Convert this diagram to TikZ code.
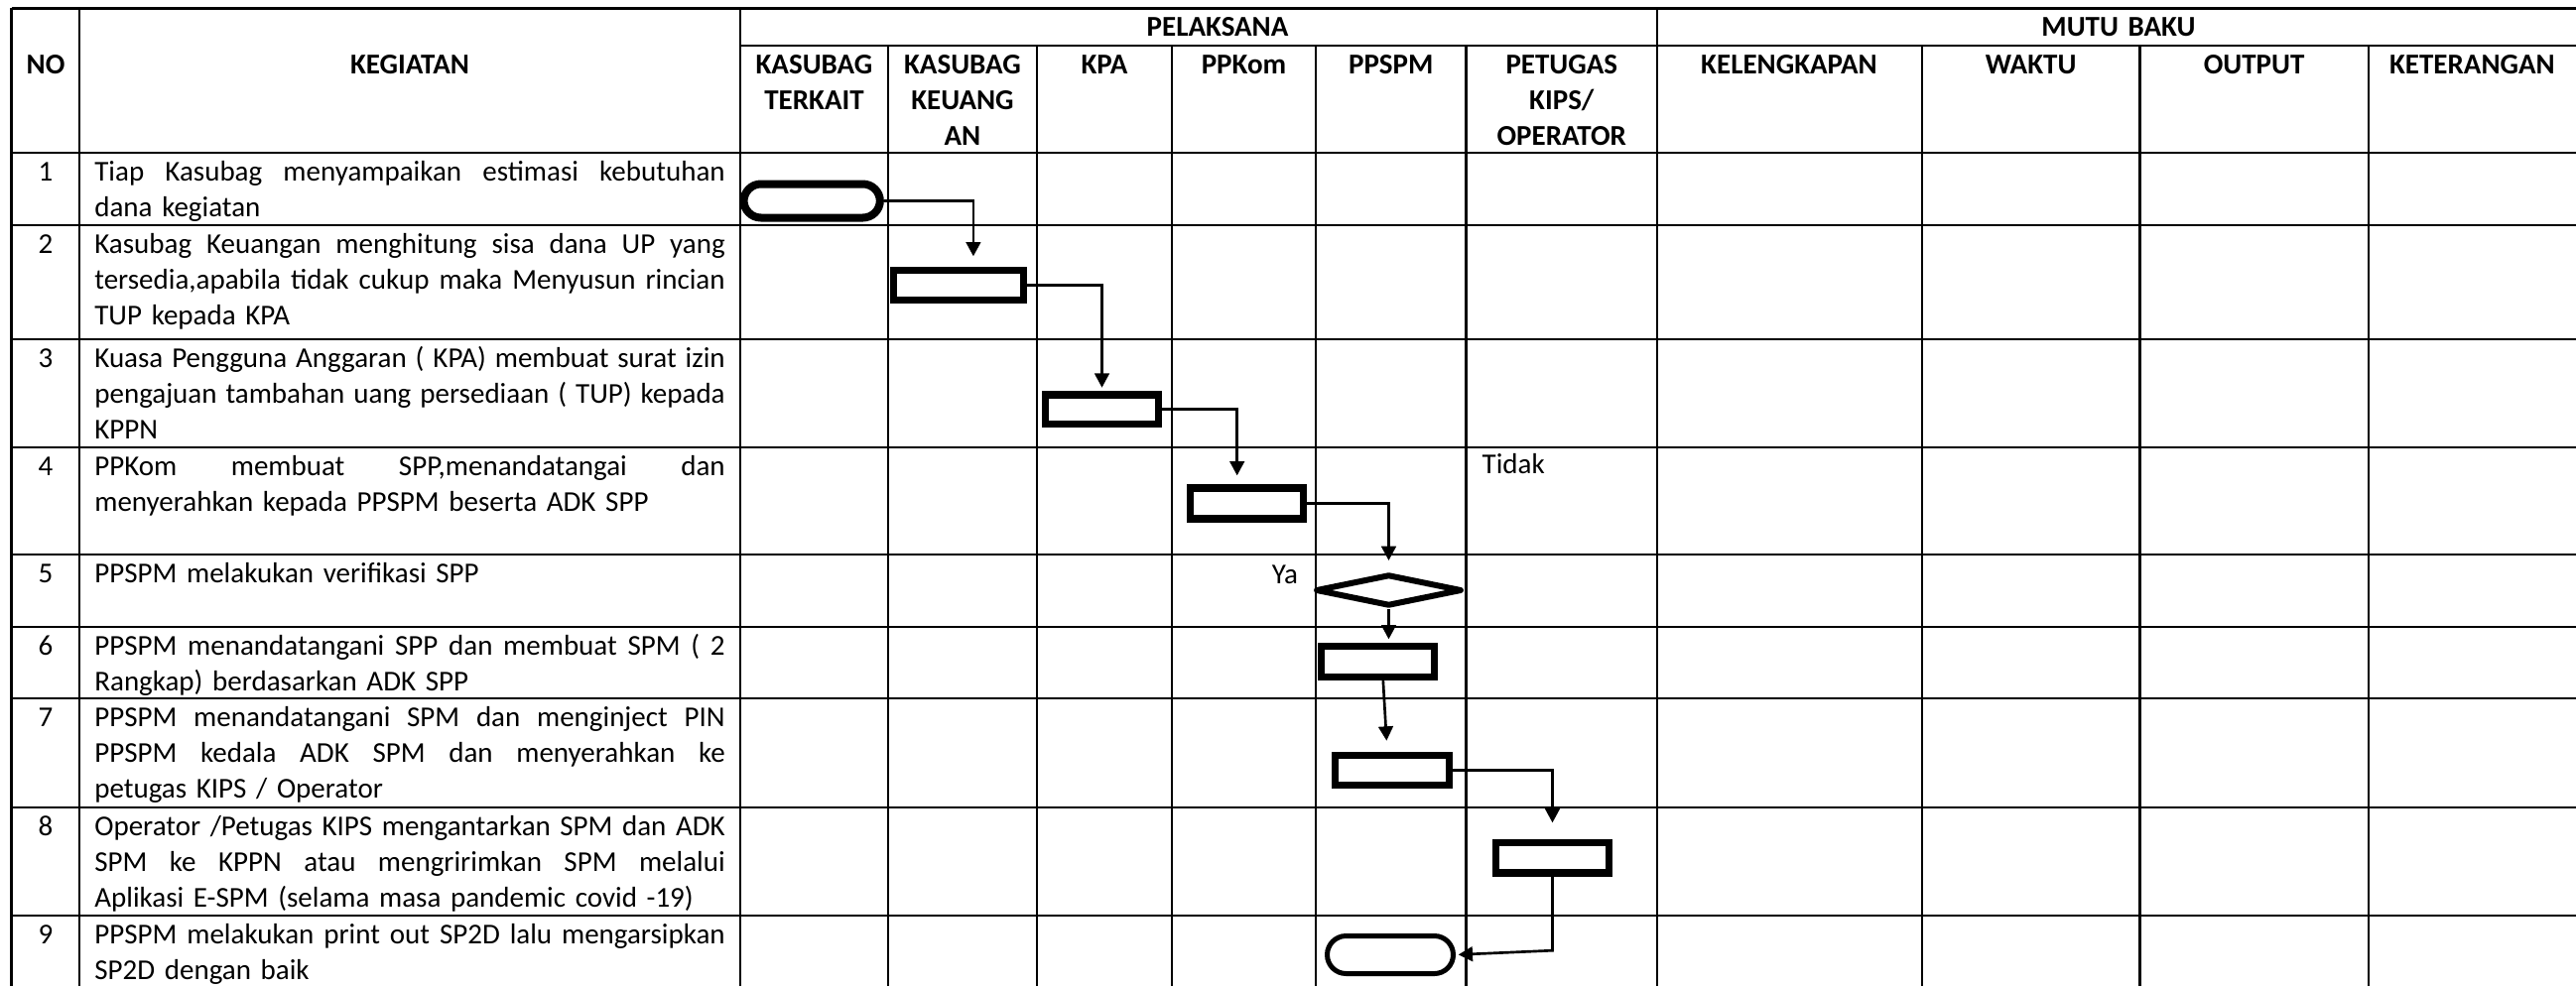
\documentclass[tikz,border=0pt]{standalone}
\usepackage{fontspec}
\setmainfont{Carlito}
\usepackage{tikz}
\usetikzlibrary{arrows.meta,shapes.geometric}
\newcommand{\jl}[1]{\makebox[190.6pt][s]{\spaceskip=0pt\xspaceskip=0pt #1}}
\tikzset{
  cell/.style={font=\fontsize{8.7}{10.8}\selectfont, inner sep=0pt},
  hd/.style={cell, font=\fontsize{8.7}{10.85}\selectfont\bfseries, align=center, anchor=base, text width=80pt},
  txt/.style={cell, align=left, anchor=base west, text width=190.6pt},
  num/.style={cell, anchor=base},
  grid/.style={line width=0.65pt},
  proc/.style={draw, line width=2.2pt, inner sep=0pt, fill=white},
  term/.style={proc, rounded corners=5.2pt},
  dec/.style={diamond, draw, line width=1.8pt, line join=round, inner sep=0pt, fill=white},
  flow/.style={line width=0.8pt, -{Triangle[length=4.3pt,width=4.4pt]}}
}

\begin{document}
\begin{tikzpicture}[x=0.3pt,y=-0.3pt]
  \useasboundingbox (0,0) rectangle (2596,994);
  \draw[grid, line width=0.8pt] (11.5,8.3) -- (2596,8.3);
  \draw[grid] (746,45.7) -- (2596,45.7);
  \foreach \y in {154.3,226.7,341.7,450.7,559,631.7,704.3,814,922.7}
    \draw[grid] (11.5,\y) -- (2596,\y);
  \foreach \x in {11.5,80.4,746,1670}
    \draw[grid] (\x,8.3) -- (\x,994);
  \foreach \x in {895,1045,1181,1326,1477.5,1936.7,2156.5,2386.7}
    \draw[grid] (\x,45.7) -- (\x,994);

  \node[hd] (no) at (46,74) {NO};
  \node[hd] (keg) at (413,74) {KEGIATAN};
  \node[hd] (pel) at (1227,36.7) {PELAKSANA};
  \node[hd] (mutu) at (2135,36.7) {MUTU BAKU};
  \node[hd] (kasubag) at (820.5,74) {KASUBAG\\TERKAIT};
  \node[hd] (keuangan) at (970,74) {KASUBAG\\KEUANG\\AN};
  \node[hd] (kpa) at (1113,74) {KPA};
  \node[hd] (ppkom) at (1253.5,74) {PPKom};
  \node[hd] (ppspm) at (1401.8,74) {PPSPM};
  \node[hd] (petugas) at (1573.8,74) {PETUGAS\\KIPS/\\OPERATOR};
  \node[hd] (lengkap) at (1803,74) {KELENGKAPAN};
  \node[hd] (waktu) at (2046.6,74) {WAKTU};
  \node[hd] (output) at (2271.6,74) {OUTPUT};
  \node[hd] (ket) at (2491.4,74) {KETERANGAN};

  \node[num] (n1) at (46,182.8) {1};
  \node[txt] (k1) at (94.7,182.8) {\jl{Tiap Kasubag menyampaikan estimasi kebutuhan}\\dana kegiatan};
  \node[num] (n2) at (46,255.2) {2};
  \node[txt] (k2) at (94.7,255.2) {\jl{Kasubag Keuangan menghitung sisa dana UP yang}\\\jl{tersedia,apabila tidak cukup maka Menyusun rincian}\\TUP kepada KPA};
  \node[num] (n3) at (46,370.2) {3};
  \node[txt] (k3) at (94.7,370.2) {\jl{Kuasa Pengguna Anggaran ( KPA) membuat surat izin}\\\jl{pengajuan tambahan uang persediaan ( TUP) kepada}\\KPPN};
  \node[num] (n4) at (46,479.2) {4};
  \node[txt] (k4) at (94.7,479.2) {\jl{PPKom membuat SPP,menandatangai dan}\\menyerahkan kepada PPSPM beserta ADK SPP};
  \node[num] (n5) at (46,587.5) {5};
  \node[txt] (k5) at (94.7,587.5) {PPSPM melakukan verifikasi SPP};
  \node[num] (n6) at (46,660.2) {6};
  \node[txt] (k6) at (94.7,660.2) {\jl{PPSPM menandatangani SPP dan membuat SPM ( 2}\\Rangkap) berdasarkan ADK SPP};
  \node[num] (n7) at (46,732.8) {7};
  \node[txt] (k7) at (94.7,732.8) {\jl{PPSPM menandatangani SPM dan menginject PIN}\\\jl{PPSPM kedala ADK SPM dan menyerahkan ke}\\petugas KIPS / Operator};
  \node[num] (n8) at (46,842.5) {8};
  \node[txt] (k8) at (94.7,842.5) {\jl{Operator /Petugas KIPS mengantarkan SPM dan ADK}\\\jl{SPM ke KPPN atau mengririmkan SPM melalui}\\Aplikasi E-SPM (selama masa pandemic covid -19)};
  \node[num] (n9) at (46,951.2) {9};
  \node[txt] (k9) at (94.7,951.2) {\jl{PPSPM melakukan print out SP2D lalu mengarsipkan}\\SP2D dengan baik};

  \node[term, line width=2.4pt, minimum width=41.2pt, minimum height=10.2pt] (t1) at (818.2,202.5) {};
  \node[proc, minimum width=39.3pt, minimum height=8.9pt] (b2) at (965.9,287.5) {};
  \node[proc, minimum width=34.1pt, minimum height=8.8pt] (b3) at (1110.5,412.7) {};
  \node[proc, minimum width=34.2pt, minimum height=9.3pt] (b4) at (1256.7,507.5) {};
  \node[dec, minimum width=44.2pt, minimum height=9.6pt] (d5) at (1399.5,595) {};
  \node[proc, minimum width=34.1pt, minimum height=9.2pt] (b6) at (1388.5,667) {};
  \node[proc, minimum width=34.4pt, minimum height=9pt] (b7) at (1403,776.3) {};
  \node[proc, minimum width=34.3pt, minimum height=9.2pt] (b8) at (1564.5,864.7) {};
  \node[term, line width=1.5pt, rounded corners=5.7pt, minimum width=38.1pt, minimum height=11.4pt] (t9) at (1401,962.5) {};
  \node[num] (ya) at (1295,588) {Ya};
  \node[cell, anchor=base west] (tidak) at (1493,477) {Tidak};

  \draw[flow, shorten >=3.2pt] (t1.east) -| ([xshift=4.5pt]b2.north);
  \draw[flow, shorten >=1.1pt] (b2.east) -| (b3.north);
  \draw[flow, shorten >=2.7pt] (b3.east) -| ([xshift=-3pt]b4.north);
  \draw[flow, shorten >=3.3pt] (b4.east) -| (d5.north);
  \draw[flow, shorten >=1.1pt] (d5.south) -- (d5.south |- b6.north);
  \draw[flow, shorten >=3.3pt] ([xshift=1.6pt]b6.south) -- ([xshift=-1.5pt]b7.north);
  \draw[flow, shorten >=4.9pt] (b7.east) -| (b8.north);
  \draw[flow, shorten >=0.8pt] (b8.south) -- ++(0,74.5) -- (t9.east);
\end{tikzpicture}
\end{document}
